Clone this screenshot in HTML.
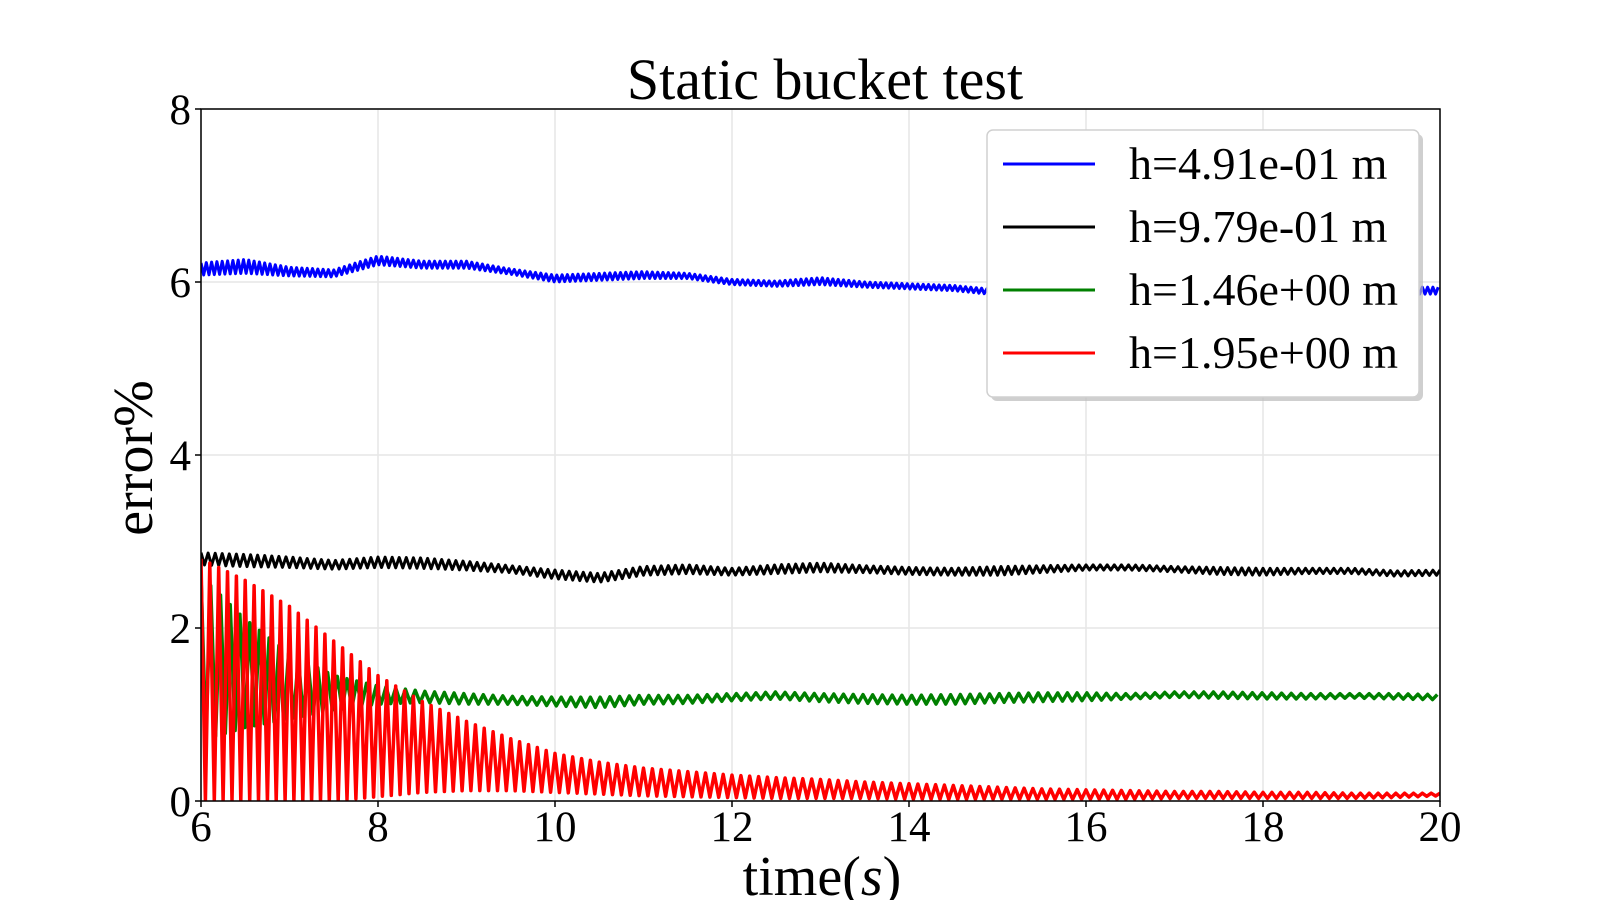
<!DOCTYPE html>
<html><head><meta charset="utf-8"><style>
body{margin:0;background:#fff;}
svg{display:block;font-family:"Liberation Serif",serif;}
</style></head><body>
<svg id="chart" width="1600" height="900"></svg>
<script>
const xTicks=[6,8,10,12,14,16,18,20];
const yTicks=[0,2,4,6,8];
const sampleTimes=[6,6.5,7,7.5,8,8.5,9,9.5,10,10.5,11,11.5,12,12.5,13,13.5,14,14.5,15,15.5,16,16.5,17,17.5,18,18.5,19,19.5,20];
const blueMean=[6.15,6.18,6.12,6.1,6.25,6.2,6.2,6.12,6.04,6.06,6.08,6.07,6.0,5.98,6.01,5.97,5.95,5.93,5.88,5.88,5.88,5.88,5.88,5.88,5.88,5.88,5.88,5.9,5.9];
const blueNoise=[0.07,0.08,0.05,0.04,0.05,0.04,0.04,0.03,0.04,0.04,0.04,0.03,0.03,0.03,0.04,0.03,0.03,0.03,0.03,0.03,0.03,0.03,0.03,0.03,0.03,0.03,0.03,0.04,0.04];
const blackMean=[2.8,2.78,2.76,2.73,2.76,2.75,2.72,2.68,2.62,2.58,2.66,2.68,2.65,2.68,2.7,2.68,2.66,2.65,2.66,2.68,2.7,2.7,2.68,2.66,2.65,2.66,2.66,2.63,2.64];
const blackNoise=[0.07,0.07,0.06,0.05,0.06,0.06,0.05,0.04,0.05,0.05,0.05,0.05,0.04,0.05,0.05,0.04,0.04,0.04,0.05,0.04,0.03,0.03,0.03,0.04,0.04,0.03,0.03,0.03,0.03];
const greenUpper=[2.6,2.1,1.7,1.45,1.33,1.27,1.24,1.21,1.2,1.2,1.22,1.22,1.24,1.26,1.24,1.23,1.22,1.23,1.24,1.25,1.25,1.24,1.26,1.26,1.25,1.24,1.24,1.24,1.23];
const greenLower=[0.7,0.85,0.95,1.05,1.12,1.14,1.12,1.12,1.1,1.08,1.12,1.13,1.16,1.18,1.15,1.13,1.12,1.12,1.14,1.15,1.16,1.18,1.2,1.19,1.18,1.18,1.19,1.18,1.17];
const redUpper=[2.8,2.55,2.25,1.85,1.45,1.15,0.92,0.72,0.55,0.45,0.38,0.34,0.3,0.27,0.25,0.22,0.2,0.18,0.16,0.14,0.13,0.12,0.11,0.11,0.1,0.1,0.09,0.09,0.09];
const redLower=[0,0,0,0,0.05,0.1,0.12,0.12,0.1,0.08,0.06,0.05,0.04,0.03,0.03,0.03,0.02,0.02,0.02,0.02,0.02,0.02,0.03,0.03,0.03,0.03,0.03,0.04,0.06];

const NS='http://www.w3.org/2000/svg';
const svg=document.getElementById('chart');
const X0=201,X1=1440,Y0=801,Y1=109;
const xs=t=>X0+(t-6)/(20-6)*(X1-X0);
const ys=v=>Y0-(v-0)/(8-0)*(Y0-Y1);
function mk(tag,attrs,parent){const e=document.createElementNS(NS,tag);for(const k in attrs)e.setAttribute(k,attrs[k]);(parent||svg).appendChild(e);return e;}
function interp(arr,t){const i=Math.min(Math.floor((t-6)/0.5),arr.length-2);const f=(t-sampleTimes[i])/0.5;return arr[i]+(arr[i+1]-arr[i])*f;}

xTicks.forEach(t=>{const g=mk('line',{x1:xs(t),x2:xs(t),y1:Y1,y2:Y0,stroke:'#e6e6e6','stroke-width':1.5});
});
yTicks.forEach(v=>{const g=mk('line',{x1:X0,x2:X1,y1:ys(v),y2:ys(v),stroke:'#e6e6e6','stroke-width':1.5});
});

const clip=mk('clipPath',{id:'pc'});mk('rect',{x:X0,y:Y1,width:X1-X0,height:Y0-Y1},clip);

function band(upper,lower,step,color,name,w){
  let d='';let k=0;
  for(let t=6;t<=20.0001;t+=step/2,k++){
    const v=(k%2===0)?interp(upper,Math.min(t,20)):interp(lower,Math.min(t,20));
    d+=(k?'L':'M')+xs(t).toFixed(1)+' '+ys(v).toFixed(1);
  }
  const p=mk('path',{d:d,fill:'none',stroke:color,'stroke-width':w,'stroke-linejoin':'round','clip-path':'url(#pc)'});
  
}
function noisy(mean,noise,step,color,name,w){
  const up=mean.map((m,i)=>m+noise[i]),lo=mean.map((m,i)=>m-noise[i]);
  band(up,lo,step,color,name,w);
}
noisy(blueMean,blueNoise,0.06,'#0000ff','series-blue',3);
noisy(blackMean,blackNoise,0.08,'#000000','series-black',3);
band(greenUpper,greenLower,0.11,'#008000','series-green',3.5);
band(redUpper,redLower,0.1,'#ff0000','series-red',3.5);

const ax=mk('rect',{x:X0,y:Y1,width:X1-X0,height:Y0-Y1,fill:'none',stroke:'#000','stroke-width':1.5});

xTicks.forEach(t=>{mk('line',{x1:xs(t),x2:xs(t),y1:Y0,y2:Y0+6,stroke:'#000','stroke-width':1.5});
const l=mk('text',{x:xs(t),y:Y0+40,'text-anchor':'middle','font-size':43});l.textContent=t;
});
yTicks.forEach(v=>{mk('line',{x1:X0-6,x2:X0,y1:ys(v),y2:ys(v),stroke:'#000','stroke-width':1.5});
const l=mk('text',{x:X0-10,y:ys(v)+15,'text-anchor':'end','font-size':43});l.textContent=v;
});

const title=mk('text',{x:825,y:99,'text-anchor':'middle','font-size':58});title.textContent='Static bucket test';

const xl=mk('text',{x:822,y:895,'text-anchor':'middle','font-size':56});xl.innerHTML='time(<tspan font-style="italic">s</tspan>)';

const yl=mk('text',{x:0,y:0,'text-anchor':'middle','font-size':56,transform:'translate(152,458) rotate(-90)'});yl.textContent='error%';


const lg=mk('g',{});
mk('rect',{x:991,y:134,width:432,height:267,rx:6,fill:'#bbb',opacity:0.7},lg);
mk('rect',{x:987,y:130,width:432,height:267,rx:6,fill:'#fff',stroke:'#d0d0d0','stroke-width':1.5},lg);
const labels=['h=4.91e-01 m','h=9.79e-01 m','h=1.46e+00 m','h=1.95e+00 m'];
const cols=['#0000ff','#000000','#008000','#ff0000'];
labels.forEach((s,i)=>{const y=164+i*63;
const e=mk('g',{},lg);
mk('line',{x1:1003,x2:1095,y1:y,y2:y,stroke:cols[i],'stroke-width':3},e);
const t=mk('text',{x:1129,y:y+15,'font-size':46},e);t.textContent=s;});
</script>
</body></html>
